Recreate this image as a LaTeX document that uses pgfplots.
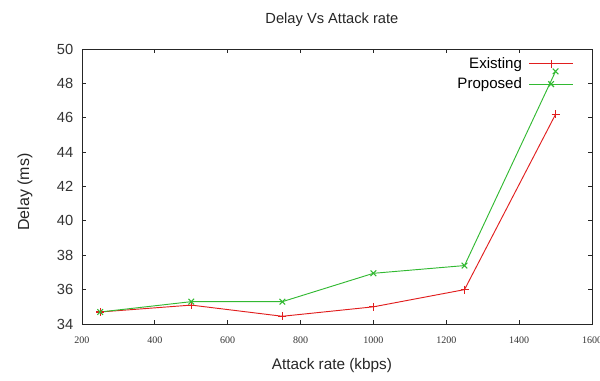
\documentclass[border=0pt]{standalone}
\usepackage{fontspec}
\setmainfont{Liberation Sans}
\newfontfamily\tickserif{Liberation Serif}
\usepackage{pgfplots}
\pgfplotsset{compat=1.18}
\definecolor{exred}{RGB}{225,30,30}
\definecolor{prgreen}{RGB}{50,185,50}
\begin{document}
\begin{tikzpicture}
\begin{axis}[
  name=ax, at={(0,0)}, anchor=south west,
  scale only axis, width=382.5pt, height=206.25pt,
  xmin=200, xmax=1600, ymin=34, ymax=50,
  xtick={200,400,...,1600}, ytick={34,36,...,50},
  tick align=inside, major tick length=3pt,
  axis line style={black!85, line width=0.7pt},
  every tick/.style={black!85, line width=0.6pt},
  /pgf/number format/assume math mode=true,
  xticklabel style={font=\tickserif\fontsize{7.5}{9}\selectfont, text=black!80, yshift=-6pt},
  yticklabel style={font=\fontsize{11}{13}\selectfont, text=black!80, xshift=-3pt},
  scaled x ticks=false,
  xticklabel={\pgfmathprintnumber[fixed,1000 sep={}]{\tick}},
  title={Delay Vs Attack rate},
  title style={font=\fontsize{11}{13}\selectfont, text=black!85, at={(rel axis cs:0.49,1)}, anchor=center, yshift=16pt},
  xlabel={Attack rate (kbps)},
  xlabel style={font=\fontsize{11.5}{13}\selectfont, text=black!85, at={(rel axis cs:0.49,0)}, anchor=center, yshift=-31.5pt},
  ylabel={Delay (ms)},
  ylabel style={font=\fontsize{12}{14}\selectfont, text=black!85, at={(rel axis cs:0,0.48)}, anchor=center, yshift=42.75pt},
  legend plot pos=right,
  legend cell align=right,
  legend style={draw=none, fill=none, at={(rel axis cs:0.967,0.985)}, anchor=north east,
    font=\fontsize{11.3}{13}\selectfont, row sep=1.5pt, inner sep=1pt,
    nodes={inner xsep=5pt}},
  legend image code/.code={\draw[mark repeat=2,mark phase=2,#1] plot coordinates {(0pt,0pt)(16.5pt,0pt)(33pt,0pt)};},
]
\addplot[exred, line width=0.7pt, mark=+, mark size=3pt, mark options={line width=0.8pt}] coordinates {
  (250,34.7) (500,35.1) (750,34.45) (1000,35.0) (1250,36.0) (1500,46.2)
};
\addlegendentry{Existing}
\addplot[prgreen, line width=0.7pt, mark=x, mark size=3pt, mark options={line width=0.8pt}] coordinates {
  (250,34.7) (500,35.3) (750,35.3) (1000,36.95) (1250,37.4) (1500,48.7)
};
\addlegendentry{Proposed}
\end{axis}
\pgfresetboundingbox
\path (-61.5pt,-42pt) rectangle (388.5pt,243pt);
\end{tikzpicture}
\end{document}
